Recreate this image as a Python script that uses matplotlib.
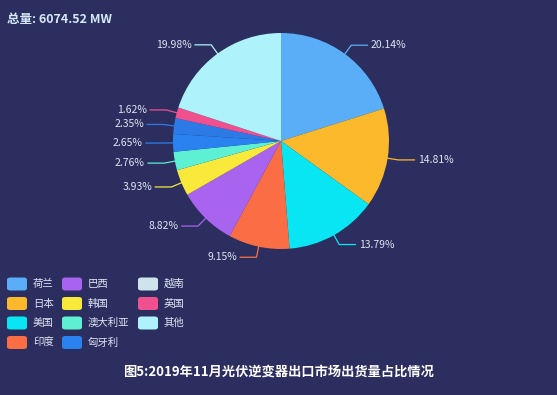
import numpy as np
import matplotlib
matplotlib.use("Agg")
import matplotlib.pyplot as plt
from matplotlib.patches import FancyBboxPatch

plt.rcParams['font.family'] = ['Noto Sans CJK SC', 'DejaVu Sans']

# data, clockwise from 12 o'clock
countries = ['荷兰', '日本', '美国', '印度', '巴西', '韩国', '澳大利亚', '匈牙利', '越南', '英国', '其他']
shares = [20.14, 14.81, 13.79, 9.15, 8.82, 3.93, 2.76, 2.65, 2.35, 1.62, 19.98]
colors = ['#5aaef8', '#fdb92c', '#08e6f4', '#fb6e45', '#a864ef', '#f8e93b',
          '#5ef0d2', '#2a82f0', '#2c7ae6', '#f1508f', '#aef3fc']
legend_colors = colors[:8] + ['#cfe3ec'] + colors[9:]
total_label = '总量: 6074.52 MW'
title = '图5:2019年11月光伏逆变器出口市场出货量占比情况'

BG = '#2b2e5e'
TXT = '#dde6f3'

W, H = 557, 395
cx, cy, R = 281, 141, 108  # pixels

fig = plt.figure(figsize=(W / 100, H / 100), dpi=100, facecolor=BG)
ax = fig.add_axes([0, 0, 1, 1])
ax.set_facecolor(BG)

wedges, _ = ax.pie(shares, colors=colors, startangle=90, counterclock=False,
                   radius=1.0, wedgeprops=dict(linewidth=0))
# pie() resets the limits, so set them afterwards
ax.set_xlim(-cx / R, (W - cx) / R)
ax.set_ylim(-(H - cy) / R, cy / R)
ax.axis('off')

# leader lines + labels
for w, v, c in zip(wedges, shares, colors):
    ang = np.deg2rad((w.theta1 + w.theta2) / 2)
    x0, y0 = np.cos(ang), np.sin(ang)
    x1, y1 = 1.1 * x0, 1.1 * y0
    side = 1 if x0 >= 0 else -1
    x2 = x1 + side * 0.15
    ax.plot([x0 * 0.98, x1, x2], [y0 * 0.98, y1, y1], color=c, lw=0.9)
    ax.text(x2 + side * 0.03, y1, f'{v:.2f}%', color=TXT, fontsize=7.5,
            ha='left' if side > 0 else 'right', va='center')

# legend (3 columns, column-major)
col_x = [7, 62, 138]
row_y = [284, 303.5, 323, 342.5]
for i, (name, c) in enumerate(zip(countries, legend_colors)):
    col, row = divmod(i, 4)
    x, y = col_x[col], row_y[row]
    box = FancyBboxPatch((x / W, 1 - (y + 6.5) / H), 20 / W, 13 / H,
                         boxstyle='round,pad=0,rounding_size=0.006',
                         transform=fig.transFigure, facecolor=c, edgecolor='none')
    fig.patches.append(box)
    fig.text((x + 26) / W, 1 - y / H, name, color=TXT, fontsize=7.5, va='center', ha='left')

fig.text(7 / W, 1 - 20 / H, total_label, color='#d4ebfa', fontsize=9,
         fontweight='bold', va='center', ha='left')
fig.text(278 / W, 1 - 372 / H, title, color='white', fontsize=9.5,
         fontweight='bold', va='center', ha='center')

fig.savefig('out.png', dpi=100, facecolor=BG)
